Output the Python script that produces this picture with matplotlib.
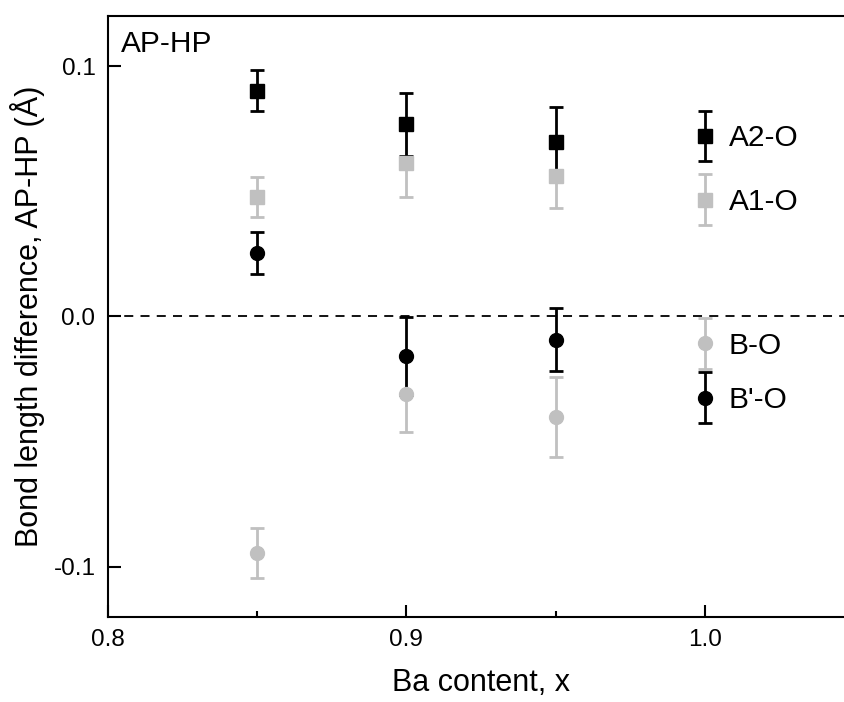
import numpy as np
import matplotlib
matplotlib.use("Agg")
import matplotlib.pyplot as plt
from matplotlib.transforms import offset_copy
from matplotlib.legend_handler import HandlerErrorbar

plt.rcParams['font.family'] = ['Liberation Sans', 'DejaVu Sans']

# Ba content
x = [0.85, 0.9, 0.95]

# AP-HP bond length differences (A) and their errors
a2_o = [0.0902, 0.0767, 0.0697]
a2_err = [0.0083, 0.0125, 0.014]
a1_o = [0.0477, 0.0611, 0.056]
a1_err = [0.0079, 0.0134, 0.0125]
b_o = [-0.0945, -0.031, -0.040]
b_err = [0.010, 0.015, 0.016]
bp_o = [0.0255, -0.0159, -0.0092]
bp_err = [0.0084, 0.0155, 0.0125]

black = 'black'
gray = '#c0c0c0'

fig = plt.figure(figsize=(8.45, 7.02), dpi=100)
ax = fig.add_axes([0.1278, 0.1211, 0.8828, 0.8561])

ekw = dict(linestyle='none', markersize=10, elinewidth=2.0, capsize=5, capthick=2.0)
# gray series first so the black ones sit on top
h_a1 = ax.errorbar(x, a1_o, yerr=a1_err, fmt='s', color=gray, **ekw)
h_b = ax.errorbar(x, b_o, yerr=b_err, fmt='o', color=gray, **ekw)
h_a2 = ax.errorbar(x, a2_o, yerr=a2_err, fmt='s', color=black, **ekw)
h_bp = ax.errorbar(x, bp_o, yerr=bp_err, fmt='o', color=black, **ekw)

ax.axhline(0, color='black', lw=1.3, ls=(0, (5, 4)), zorder=0)

ax.set_xlim(0.8, 1.05)
ax.set_ylim(-0.12, 0.12)
ax.set_xticks([0.8, 0.9, 1.0])
ax.set_xticks([0.85, 0.95], minor=True)
ax.set_yticks([-0.1, 0.0, 0.1])
ax.set_xticklabels(['0.8', '0.9', '1.0'], fontsize=17.5)
ax.set_yticklabels(['-0.1', '0.0', '0.1'], fontsize=17.5)
ax.tick_params(which='both', direction='in', width=1.5, top=False, right=False)
ax.tick_params(which='major', length=9)
ax.tick_params(which='minor', length=4.5)
ax.tick_params(axis='x', pad=9)
ax.tick_params(axis='y', pad=9)
for s in ['left', 'bottom', 'top']:
    ax.spines[s].set_linewidth(1.5)
ax.spines['right'].set_visible(False)

ax.set_xlabel('Ba content, x', fontsize=22, labelpad=12)
ax.set_ylabel('Bond length difference, AP-HP (\u00c5)', fontsize=22, labelpad=6)

ax.text(0.0174, 0.94, 'AP-HP', transform=ax.transAxes, fontsize=21.5, va='baseline', ha='left')

# legends keyed at x = 1.0
fs = 21.5
hl = 1.0
tr = offset_copy(ax.transData, fig=fig, x=-hl * fs / 2, y=0, units='points')
hmap = {type(h_a2): HandlerErrorbar(yerr_size=0.85)}
leg1 = ax.legend([h_a2, h_a1], ['A2-O', 'A1-O'], loc='center left',
                 bbox_to_anchor=(1.0, 0.0584), bbox_transform=tr,
                 frameon=False, fontsize=fs, handlelength=hl, handletextpad=0.3,
                 borderpad=0, borderaxespad=0, labelspacing=1.2, handler_map=hmap)
ax.add_artist(leg1)
ax.legend([h_b, h_bp], ['B-O', "B'-O"], loc='center left',
          bbox_to_anchor=(1.0, -0.0225), bbox_transform=tr,
          frameon=False, fontsize=fs, handlelength=hl, handletextpad=0.3,
          borderpad=0, borderaxespad=0, labelspacing=0.88, handler_map=hmap)

fig.savefig('out.png', dpi=100)
